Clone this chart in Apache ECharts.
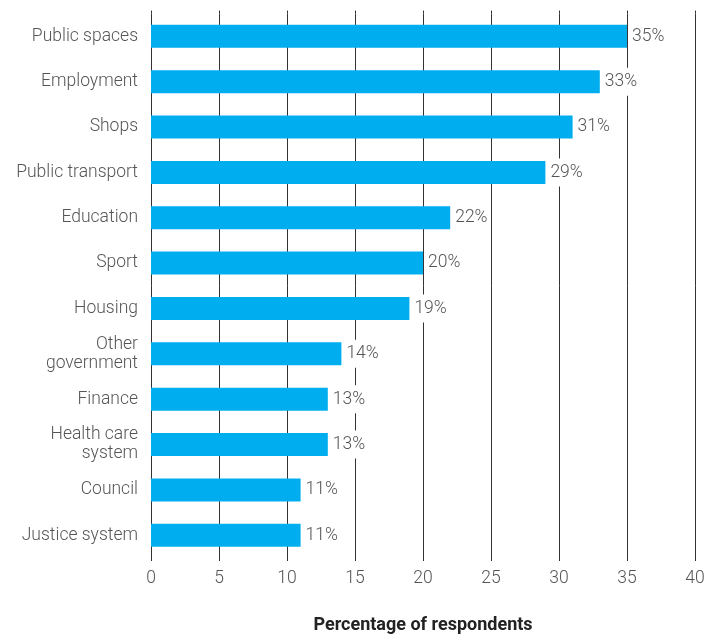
<!DOCTYPE html>
<html>
<head>
<meta charset="utf-8">
<script src="https://cdn.jsdelivr.net/npm/echarts@6/dist/echarts.min.js"></script>
<style>html,body{margin:0;padding:0;background:#fff}#c{width:708px;height:635px}</style>
</head>
<body>
<div id="c"></div>
<script>
var categories = ["Public spaces","Employment","Shops","Public transport","Education","Sport","Housing","Other\ngovernment","Finance","Health care\nsystem","Council","Justice system"];
var values = [35,33,31,29,22,20,19,14,13,13,11,11];
var xTicks = [0,5,10,15,20,25,30,35,40];
var axisTitle = "Percentage of respondents";

var chart = echarts.init(document.getElementById('c'), null, {renderer:'canvas'});
var font = 'Roboto';
chart.setOption({
  animation:false,
  grid:{left:151, right:13, top:13.6, height:544.4, containLabel:false, outerBoundsMode:'none'},
  xAxis:[{
    type:'value', min:xTicks[0], max:xTicks[xTicks.length-1], interval:5,
    position:'bottom',
    axisLine:{show:false},
    axisTick:{show:true, length:3, lineStyle:{color:'#333', width:1}},
    splitLine:{show:true, lineStyle:{color:'#333', width:1}},
    axisLabel:{margin:12, color:'#555', fontFamily:font, fontWeight:300, fontSize:17.5},
    name:axisTitle, nameLocation:'middle', nameGap:58,
    nameTextStyle:{color:'#222', fontFamily:font, fontWeight:'bold', fontSize:18, verticalAlign:'top'}
  },{
    type:'value', min:xTicks[0], max:xTicks[xTicks.length-1], interval:5,
    position:'top',
    axisLine:{show:false},
    axisTick:{show:true, length:3, lineStyle:{color:'#333', width:1}},
    splitLine:{show:false},
    axisLabel:{show:false}
  }],
  yAxis:{
    type:'category', data:categories, inverse:true,
    axisLine:{show:false}, axisTick:{show:false},
    axisLabel:{margin:13, color:'#555', fontFamily:font, fontWeight:300, fontSize:17.5, lineHeight:19, padding:[5,0,0,0]}
  },
  series:[{
    type:'bar', data:values, barWidth:23, xAxisIndex:0,
    itemStyle:{color:'#00AEEF'},
    label:{show:true, position:'right', distance:3, formatter:'{c}%',
      color:'#555', fontFamily:font, fontWeight:300, fontSize:17.5,
      backgroundColor:'#fff', padding:[7,2,3,2]}
  }]
});
</script>
</body>
</html>
